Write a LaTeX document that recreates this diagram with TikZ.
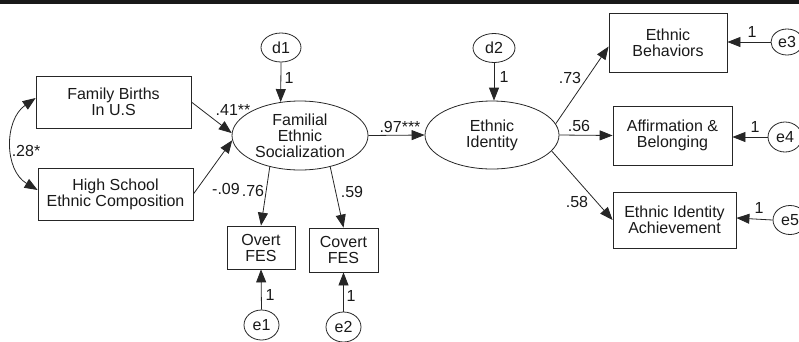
\documentclass[tikz,border=0pt]{standalone}
\usepackage{fontspec}
\setmainfont{Liberation Sans}
\usetikzlibrary{arrows.meta,shapes.geometric}
\begin{document}
\begin{tikzpicture}[x=1pt,y=-1pt,
  every node/.style={font=\fontsize{16}{16}\selectfont, text=black!90},
  box/.style={draw=black!85, line width=0.8pt, inner sep=0pt, align=center},
  lat/.style={draw=black!85, ellipse, line width=0.8pt, inner sep=0pt, align=center},
  err/.style={draw=black!85, ellipse, line width=0.8pt, inner sep=0pt},
  arr/.style={draw=black!85, line width=0.8pt, -{Triangle[length=13pt,width=10pt]}},
  dbl/.style={draw=black!85, line width=0.8pt, {Triangle[length=13pt,width=10pt]}-{Triangle[length=13pt,width=10pt]}},
  lab/.style={inner sep=0pt}]
\useasboundingbox (0,0) rectangle (799,341);
\clip (0,0) rectangle (799,341);
\fill[black!90] (0,0) rectangle (799,3.5);

% observed predictors
\node[box, minimum width=155pt, minimum height=52pt] (fb) at (113.5,102) {Family Births\\In U.S};
\node[box, minimum width=155pt, minimum height=52pt] (hs) at (115.5,194) {High School\\Ethnic Composition};

% latent variables
\node[lat, minimum width=136pt, minimum height=69pt] (fam) at (300,135.5) {Familial\\Ethnic\\Socialization};
\node[lat, minimum width=134pt, minimum height=68pt] (ei) at (492,135) {Ethnic\\Identity};

% disturbances
\node[err, minimum width=40pt, minimum height=29pt] (d1) at (281,47.5) {d1};
\node[err, minimum width=42pt, minimum height=29pt] (d2) at (494,48) {d2};

% indicators
\node[box, minimum width=68pt, minimum height=43pt] (ov) at (261,247.5) {Overt\\FES};
\node[box, minimum width=69pt, minimum height=44pt] (cv) at (343.5,250) {Covert\\FES};
\node[box, minimum width=118pt, minimum height=59pt] (beh) at (668,42.5) {Ethnic\\Behaviors};
\node[box, minimum width=119pt, minimum height=59pt] (aff) at (672.5,135.5) {Affirmation \&\\Belonging};
\node[box, minimum width=123pt, minimum height=56pt] (eia) at (674.5,220) {Ethnic Identity\\Achievement};

% errors
\node[err, minimum width=35pt, minimum height=30pt] (e1) at (261.5,325) {e1};
\node[err, minimum width=35pt, minimum height=30pt] (e2) at (343.5,327) {e2};
\node[err, minimum width=32pt, minimum height=26pt] (e3) at (787,42) {e3};
\node[err, minimum width=34pt, minimum height=30pt] (e4) at (785,137) {e4};
\node[err, minimum width=34pt, minimum height=29pt] (e5) at (790,220) {e5};

% paths
\draw[dbl] ([yshift=4pt]fb.west) .. controls (4,120) and (4,170) .. ([yshift=4pt]hs.west);
\draw[arr] (fb.east) -- (fam.178);
\draw[arr] (hs.east) -- (fam.184);
\draw[arr] (d1.south) -- (fam.120);
\draw[arr] (fam.226) -- (ov.north);
\draw[arr] (fam.314) -- (cv.north);
\draw[arr] (e1.north) -- (ov.south);
\draw[arr] (e2.north) -- (cv.south);
\draw[arr] (fam.east) -- (ei.west);
\draw[arr] (d2.south) -- (d2.south |- ei.north);
\draw[arr] (ei.10) -- ([yshift=-4pt]beh.west);
\draw[arr] (ei.east) -- (aff.west);
\draw[arr] (ei.345) -- (eia.west);
\draw[arr] (e3.west) -- (e3.west -| beh.east);
\draw[arr] (e4.west) -- (e4.west -| aff.east);
\draw[arr] (e5.west) -- ([yshift=2pt]eia.east);

% labels
\node[lab] (l28) at (26,151) {.28*};
\node[lab] (l41) at (233,110) {.41**};
\node[lab] (l09) at (226,189) {-.09};
\node[lab] (l76) at (253,191) {.76};
\node[lab] (l59) at (352,192) {.59};
\node[lab] (ld1) at (289,78) {1};
\node[lab] (le1) at (270,295) {1};
\node[lab] (le2) at (351,296) {1};
\node[lab] (l97) at (400,127) {.97***};
\node[lab] (ld2) at (504,77) {1};
\node[lab] (l73) at (570,78) {.73};
\node[lab] (l56) at (579,126) {.56};
\node[lab] (l58) at (577,202) {.58};
\node[lab] (le3) at (752,32) {1};
\node[lab] (le4) at (755,127) {1};
\node[lab] (le5) at (759,208) {1};
\end{tikzpicture}
\end{document}
